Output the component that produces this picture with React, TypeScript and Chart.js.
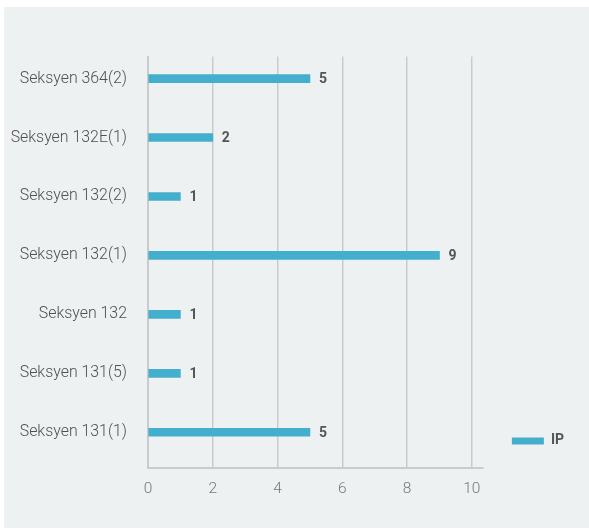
import { useEffect, useRef } from "react";
import { Chart, registerables } from "chart.js";

Chart.register(...registerables);

// Categories, top to bottom
const sections = [
  "Seksyen 364(2)",
  "Seksyen 132E(1)",
  "Seksyen 132(2)",
  "Seksyen 132(1)",
  "Seksyen 132",
  "Seksyen 131(5)",
  "Seksyen 131(1)",
];
// Number of IPs per section
const ipCounts = [5, 2, 1, 9, 1, 1, 5];
const seriesName = "IP";
const xTickValues = [0, 2, 4, 6, 8, 10];

const FONT = "Roboto, 'Liberation Sans', sans-serif";
const BAR_COLOR = "#44afcc";
const GRID_COLOR = "#c9cbcc";
const BG = "#eef1f2";

// Writes the value just past the end of each bar
const valueLabels = {
  id: "valueLabels",
  afterDatasetsDraw(chart: any) {
    const { ctx } = chart;
    chart.data.datasets.forEach((ds: any, di: number) => {
      const meta = chart.getDatasetMeta(di);
      meta.data.forEach((bar: any, i: number) => {
        const v = ds.data[i].x;
        ctx.save();
        ctx.font = `bold 14px ${FONT}`;
        ctx.fillStyle = "#555555";
        ctx.textAlign = "left";
        ctx.textBaseline = "middle";
        ctx.fillText(String(v), bar.x + 9, bar.y + 1);
        ctx.restore();
      });
    });
  },
};

// Lowers the legend block so it sits beside the last bar
const legendShift = {
  id: "legendShift",
  afterLayout(chart: any) {
    const lg = chart.legend;
    if (!lg) return;
    lg.top += 9.3;
    lg.bottom += 9.3;
  },
};

export default function App() {
  const ref = useRef<HTMLCanvasElement | null>(null);

  useEffect(() => {
    if (!ref.current) return;
    const chart = new Chart(ref.current, {
      type: "bar",
      data: {
        datasets: [
          {
            label: seriesName,
            data: ipCounts.map((v, i) => ({ x: v, y: i })),
            backgroundColor: BAR_COLOR,
            borderWidth: 0,
            barThickness: 8,
          },
        ],
      },
      options: {
        indexAxis: "y",
        responsive: false,
        animation: false,
        layout: { padding: { top: 49.5, left: 0, right: 15, bottom: 17.8 } },
        plugins: {
          tooltip: { enabled: false },
          legend: {
            position: "right",
            align: "end",
            fullSize: false,
            labels: {
              boxWidth: 32,
              boxHeight: 7,
              padding: 29,
              color: "#555555",
              font: { family: FONT, size: 14, weight: "bold" },
            },
          },
        },
        scales: {
          x: {
            type: "linear",
            min: 0,
            max: 10.34,
            afterBuildTicks: (scale: any) => {
              scale.ticks = xTickValues.map((v) => ({ value: v }));
            },
            grid: { color: GRID_COLOR, lineWidth: 1.5, drawTicks: false },
            border: { color: GRID_COLOR, width: 2 },
            ticks: {
              padding: 12,
              color: "#777777",
              font: { family: FONT, size: 15.5, weight: 300 },
            },
          },
          y: {
            type: "linear",
            reverse: true,
            offset: false,
            min: -0.375,
            max: 6.6,
            afterBuildTicks: (scale: any) => {
              scale.ticks = sections.map((_, i) => ({ value: i }));
            },
            afterFit: (scale: any) => {
              scale.width = 144;
            },
            grid: { display: false, drawTicks: false, offset: false },
            border: { display: true, color: GRID_COLOR, width: 2 },
            ticks: {
              padding: 21,
              color: "#505050",
              font: { family: FONT, size: 15.9, weight: 300 },
              callback: (value: any) => sections[value as number] ?? "",
            },
          },
        },
      },
      plugins: [valueLabels, legendShift],
    });
    return () => chart.destroy();
  }, []);

  return (
    <div
      style={{
        position: "absolute",
        left: 4,
        top: 7,
        width: 585,
        height: 521,
        background: BG,
      }}
    >
      <canvas ref={ref} width={585} height={521} style={{ width: 585, height: 521, display: "block" }} />
    </div>
  );
}
